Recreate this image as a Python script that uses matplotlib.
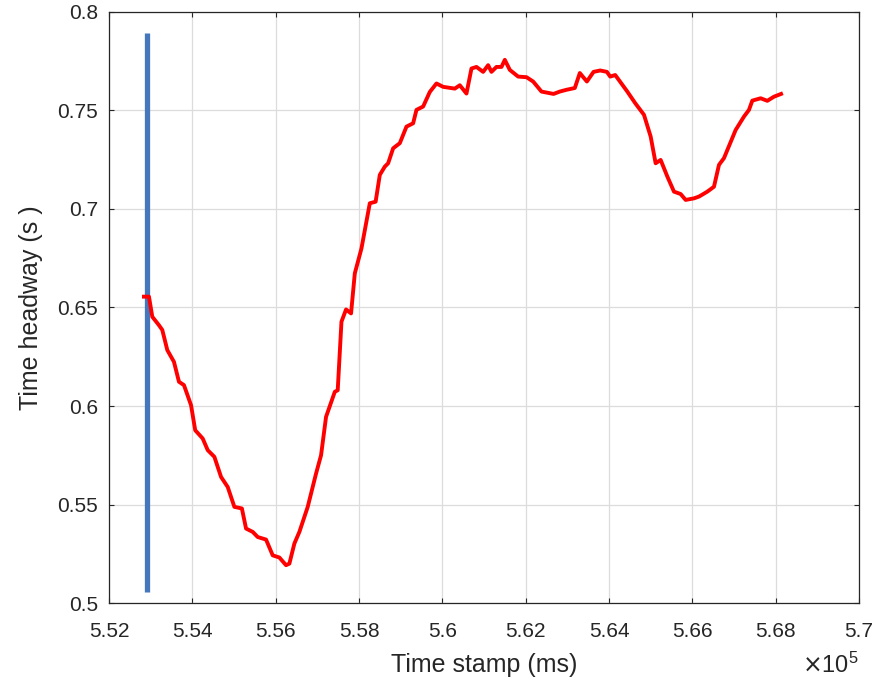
import matplotlib
matplotlib.use("Agg")
import matplotlib.pyplot as plt

plt.rcParams['font.family'] = ['Liberation Sans', 'Noto Sans CJK SC', 'DejaVu Sans']

# time stamps (x 1e5 ms) and time headway (s)
time_stamp = [5.5284, 5.5296, 5.5304, 5.5320, 5.5328, 5.5340, 5.5356, 5.5368, 5.5380, 5.5397,
              5.5407, 5.5425, 5.5437, 5.5453, 5.5469, 5.5485, 5.5501, 5.5519, 5.5529, 5.5545,
              5.5557, 5.5577, 5.5593, 5.5609, 5.5625, 5.5633, 5.5645, 5.5657, 5.5677, 5.5697,
              5.5709, 5.5721, 5.5742, 5.5749, 5.5758, 5.5769, 5.5781, 5.5790, 5.5806, 5.5826,
              5.5840, 5.5850, 5.5862, 5.5870, 5.5882, 5.5898, 5.5914, 5.5930, 5.5938, 5.5954,
              5.5970, 5.5986, 5.6002, 5.6030, 5.6042, 5.6058, 5.6070, 5.6082, 5.6098, 5.6110,
              5.6118, 5.6130, 5.6142, 5.6150, 5.6162, 5.6182, 5.6202, 5.6218, 5.6238, 5.6267,
              5.6282, 5.6298, 5.6318, 5.6330, 5.6347, 5.6363, 5.6379, 5.6395, 5.6403, 5.6415,
              5.6444, 5.6463, 5.6484, 5.6500, 5.6512, 5.6524, 5.6540, 5.6556, 5.6572, 5.6584,
              5.6604, 5.6616, 5.6636, 5.6652, 5.6664, 5.6676, 5.6704, 5.6724, 5.6736, 5.6744,
              5.6764, 5.6780, 5.6796, 5.6813]
headway = [0.6555, 0.6555, 0.6453, 0.6410, 0.6386, 0.6284, 0.6224, 0.6123, 0.6106, 0.6004,
           0.5877, 0.5835, 0.5776, 0.5742, 0.5640, 0.5589, 0.5488, 0.5480, 0.5378, 0.5361,
           0.5335, 0.5322, 0.5242, 0.5231, 0.5192, 0.5200, 0.5302, 0.5361, 0.5488, 0.5657,
           0.5750, 0.5945, 0.6072, 0.6080, 0.6428, 0.6490, 0.6470, 0.6673, 0.6800, 0.7029,
           0.7037, 0.7173, 0.7215, 0.7232, 0.7308, 0.7334, 0.7418, 0.7435, 0.7503, 0.7520,
           0.7594, 0.7637, 0.7620, 0.7611, 0.7628, 0.7586, 0.7713, 0.7721, 0.7696, 0.7730,
           0.7696, 0.7721, 0.7721, 0.7757, 0.7706, 0.7672, 0.7669, 0.7647, 0.7596, 0.7584,
           0.7596, 0.7605, 0.7614, 0.7690, 0.7647, 0.7696, 0.7703, 0.7696, 0.7672, 0.7680,
           0.7596, 0.7537, 0.7478, 0.7368, 0.7232, 0.7249, 0.7165, 0.7088, 0.7076, 0.7046,
           0.7054, 0.7063, 0.7088, 0.7113, 0.7224, 0.7258, 0.7401, 0.7469, 0.7503, 0.7550,
           0.7562, 0.7549, 0.7570, 0.7584]

marker_x = [5.5292, 5.5292]
marker_y = [0.5055, 0.7894]

x_ticks = [5.52, 5.54, 5.56, 5.58, 5.60, 5.62, 5.64, 5.66, 5.68, 5.70]
x_tick_labels = ['5.52', '5.54', '5.56', '5.58', '5.6', '5.62', '5.64', '5.66', '5.68', '5.7']
y_ticks = [0.5, 0.55, 0.6, 0.65, 0.7, 0.75, 0.8]
y_tick_labels = ['0.5', '0.55', '0.6', '0.65', '0.7', '0.75', '0.8']

fig = plt.figure(figsize=(8.83, 6.8), dpi=100)
ax = fig.add_axes([0.1234, 0.1132, 0.8494, 0.8692])

ax.plot(marker_x, marker_y, color='#4477bb', linewidth=3.8, solid_capstyle='butt', zorder=3)
ax.plot(time_stamp, headway, color='#ff0000', linewidth=2.8, zorder=4,
        solid_joinstyle='round')

ax.set_xlim(5.52, 5.70)
ax.set_ylim(0.5, 0.8)
ax.set_xticks(x_ticks)
ax.set_xticklabels(x_tick_labels)
ax.set_yticks(y_ticks)
ax.set_yticklabels(y_tick_labels)

ax.grid(True, color='#dcdcdc', linewidth=0.9)
ax.set_axisbelow(True)
ax.tick_params(direction='in', length=3.5, width=0.8, colors='#262626',
               labelsize=15, top=True, right=True, labelcolor='#262626')
ax.tick_params(axis='x', pad=14)
ax.tick_params(axis='y', pad=8)
for s in ax.spines.values():
    s.set_color('#262626')
    s.set_linewidth(0.9)

ax.set_xlabel('Time stamp (ms)', fontsize=18, color='#262626')
ax.xaxis.label.set_va('center')
ax.xaxis.set_label_coords(0.5, -0.105)
ax.set_ylabel('Time headway (s )', fontsize=18, color='#262626')
ax.yaxis.label.set_va('center')
ax.yaxis.label.set_ha('center')
ax.yaxis.set_label_coords(-0.104, 0.499)

ax.text(1.0, -0.127, r'$\times\mathregular{10^5}$', transform=ax.transAxes,
        ha='right', va='bottom', fontsize=17, color='#262626')

fig.savefig('out.png', dpi=100)
